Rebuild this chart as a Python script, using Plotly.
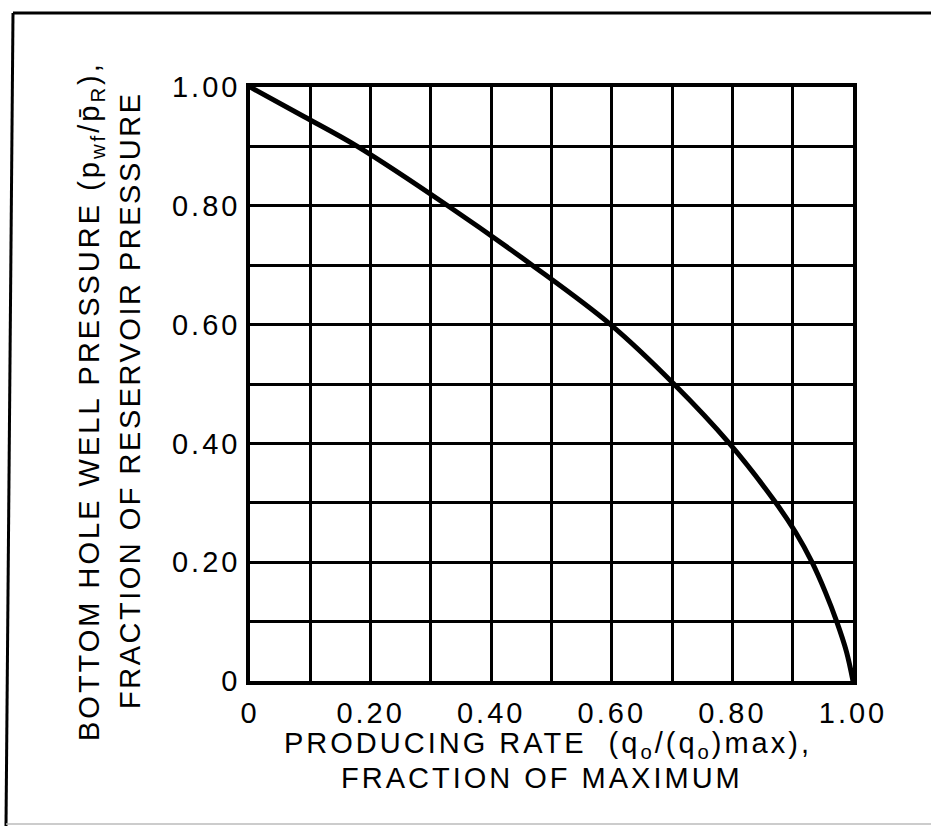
import plotly.graph_objects as go

# Curve values (pressure fraction vs. rate fraction)
pressure_frac = [1.00, 0.95, 0.90, 0.80, 0.70, 0.60, 0.50, 0.40, 0.30, 0.25, 0.20, 0.15, 0.10, 0.05, 0.00]
rate_frac = [0.000, 0.090, 0.178, 0.328, 0.468, 0.598, 0.703, 0.795, 0.872, 0.905, 0.932, 0.954, 0.973, 0.989, 1.000]

tick_vals = [0, 0.2, 0.4, 0.6, 0.8, 1.0]
tick_text = ["0", "0.20", "0.40", "0.60", "0.80", "1.00"]

x_title_1 = "PRODUCING RATE\u00a0\u00a0(q<sub>o</sub>/(q<sub>o</sub>)max),"
x_title_2 = "FRACTION OF MAXIMUM"
y_title_1 = "BOTTOM HOLE WELL PRESSURE (p<sub>wf</sub>/p\u0304<sub>R</sub>),"
y_title_2 = "FRACTION OF RESERVOIR PRESSURE"

W, H = 931, 827
L, R, T, B = 250, 78, 87, 146
pw, ph = W - L - R, H - T - B

def px(xp):
    return (xp - L) / pw

def py(yp):
    return (H - B - yp) / ph

FONT = "Liberation Sans, Arial, Helvetica, sans-serif"
FS = 29

def styled(s, ls=3):
    return f'<span style="letter-spacing:{ls}px">{s}</span>'

fig = go.Figure()
fig.add_trace(go.Scatter(
    x=rate_frac, y=pressure_frac, mode="lines",
    line=dict(color="black", width=5, shape="spline", smoothing=1.0),
    hoverinfo="skip", showlegend=False,
))

axis_common = dict(
    range=[0, 1], tickmode="array", tickvals=tick_vals,
    showgrid=True, gridcolor="black", gridwidth=2.5,
    minor=dict(dtick=0.1, tick0=0, showgrid=True, gridcolor="black", gridwidth=2.5),
    showline=True, linecolor="black", linewidth=3.5, mirror=True,
    ticks="", zeroline=False,
    tickfont=dict(family=FONT, size=FS, color="black"),
)

fig.update_xaxes(**axis_common, ticktext=[styled(t) for t in tick_text],
                 ticklabelstandoff=3)
# y labels: spacing only between glyphs so the right edge sits near the axis
fig.update_yaxes(**axis_common,
                 ticktext=[styled(t[:-1]) + t[-1] for t in tick_text],
                 ticklabelstandoff=3)

fig.update_layout(
    width=W, height=H,
    margin=dict(l=L, r=R, t=T, b=B),
    paper_bgcolor="white", plot_bgcolor="white",
    font=dict(family=FONT, color="black"),
)

ann_font = dict(family=FONT, size=FS, color="black")

# x-axis title, two lines
fig.add_annotation(xref="paper", yref="paper", x=px(548), y=py(745),
                   text=styled(x_title_1), showarrow=False, font=ann_font,
                   xanchor="center", yanchor="middle")
fig.add_annotation(xref="paper", yref="paper", x=px(542), y=py(778),
                   text=styled(x_title_2), showarrow=False, font=ann_font,
                   xanchor="center", yanchor="middle")
# y-axis title, two rotated lines
fig.add_annotation(xref="paper", yref="paper", x=px(91), y=py(401),
                   text=styled(y_title_1), showarrow=False, textangle=-90,
                   font=ann_font, xanchor="center", yanchor="middle")
fig.add_annotation(xref="paper", yref="paper", x=px(130), y=py(400),
                   text=styled(y_title_2, 2.5), showarrow=False, textangle=-90,
                   font=ann_font, xanchor="center", yanchor="middle")

# outer frame
fig.add_shape(type="line", xref="paper", yref="paper",
              x0=px(13), y0=py(13), x1=px(940), y1=py(13),
              line=dict(color="black", width=3))
fig.add_shape(type="line", xref="paper", yref="paper",
              x0=px(13), y0=py(13), x1=px(6), y1=py(826),
              line=dict(color="black", width=3))
fig.add_shape(type="line", xref="paper", yref="paper",
              x0=px(6), y0=py(824), x1=px(940), y1=py(824),
              line=dict(color="#bbbbbb", width=1.5))

fig.write_html("out.html")
